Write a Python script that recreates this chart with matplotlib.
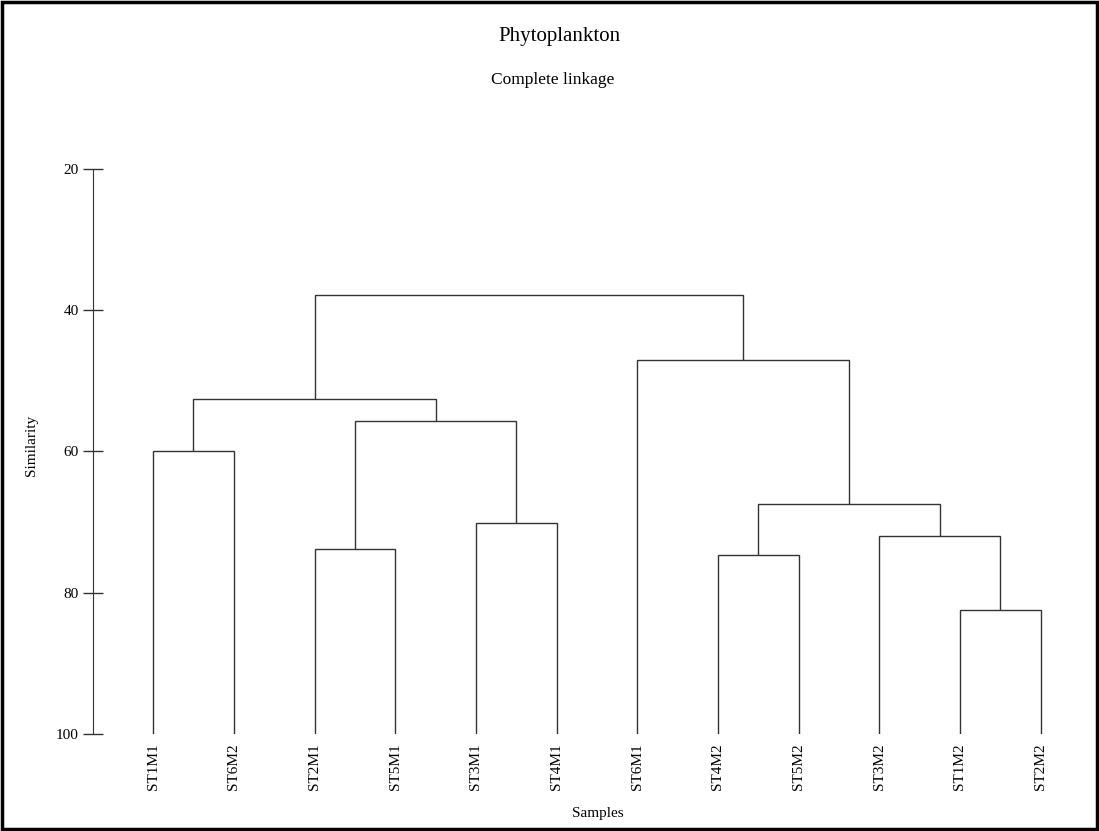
import matplotlib
matplotlib.use("Agg")
import matplotlib.pyplot as plt
from matplotlib.patches import Rectangle

plt.rcParams["font.family"] = ["Liberation Serif", "DejaVu Serif"]

# leaf order as drawn, left to right
labels = ["ST1M1", "ST6M2", "ST2M1", "ST5M1", "ST3M1", "ST4M1",
          "ST6M1", "ST4M2", "ST5M2", "ST3M2", "ST1M2", "ST2M2"]

# merges (scipy style): node ids 0..11 are leaves, each merge makes a new id 12, 13, ...
merge_left = [10, 7, 2, 9, 4, 13, 0, 14, 18, 6, 20]
merge_right = [11, 8, 3, 12, 5, 15, 1, 16, 19, 17, 21]
merge_sim = [82.4, 74.6, 73.8, 71.9, 70.1, 67.4, 60.0, 55.7, 52.6, 47.0, 37.8]

y_ticks = [20, 40, 60, 80, 100]

fig = plt.figure(figsize=(10.99, 8.31), dpi=100)
ax = fig.add_axes([0.0843, 0.1167, 0.8993, 0.680])

n = len(labels)
xpos = {i: float(i) for i in range(n)}
ypos = {i: 100.0 for i in range(n)}
for k, (a, b, s) in enumerate(zip(merge_left, merge_right, merge_sim)):
    node = n + k
    xa, xb = xpos[a], xpos[b]
    ax.plot([xa, xa, xb, xb], [ypos[a], s, s, ypos[b]], color="#333333", lw=1.0,
            solid_joinstyle="miter", solid_capstyle="butt")
    xpos[node] = (xa + xb) / 2
    ypos[node] = s

ax.set_xlim(-0.75, 11.5)
ax.set_ylim(100, 20)
ax.set_yticks(y_ticks)
ax.set_xticks(range(n))
ax.set_xticklabels(labels, rotation=90, fontsize=11)
ax.tick_params(axis="x", length=0, pad=6.5)
ax.tick_params(axis="y", direction="inout", length=14, width=1, color="#333333",
               labelsize=11, pad=3)
for side in ["top", "right", "bottom"]:
    ax.spines[side].set_visible(False)
ax.spines["left"].set_color("#333333")
ax.set_ylabel("Similarity", fontsize=11)
ax.yaxis.set_label_coords(-0.055, 0.51)

fig.text(598 / 1099, 1 - 813 / 831, "Samples", ha="center", va="center", fontsize=11)
fig.text(559 / 1099, 1 - 37 / 831, "Phytoplankton", ha="center", va="center", fontsize=15)
fig.text(553 / 1099, 1 - 80 / 831, "Complete linkage", ha="center", va="center", fontsize=12.5)

fig.patches.append(Rectangle((0.0015, 0.002), 0.997, 0.996, transform=fig.transFigure,
                             fill=False, edgecolor="black", lw=2.5))

fig.savefig("out.png", dpi=100)
